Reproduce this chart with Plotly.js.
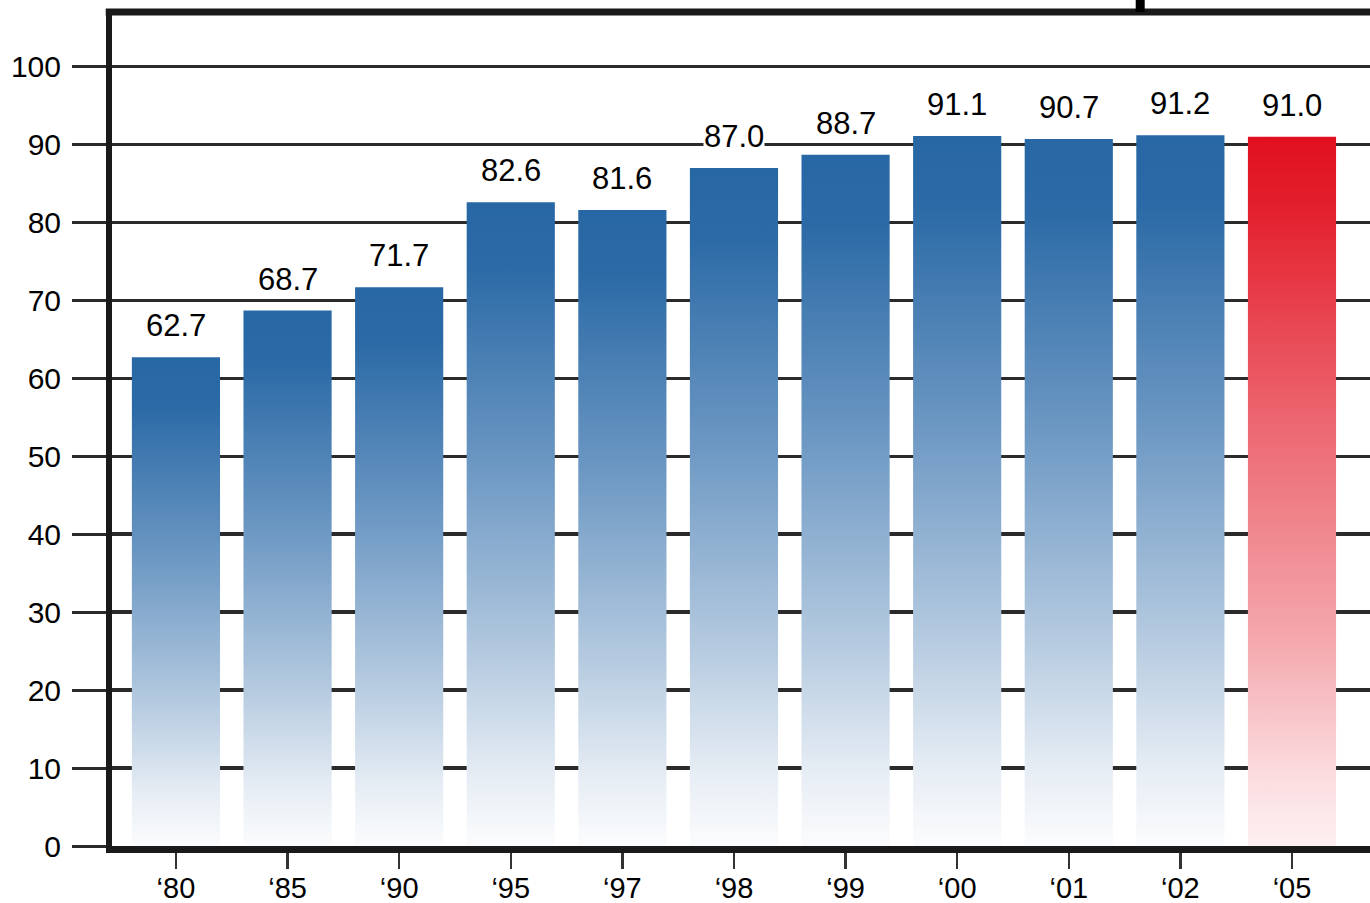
<!DOCTYPE html>
<html>
<head>
<meta charset="utf-8">
<script src="https://cdn.plot.ly/plotly-3.0.1.min.js"></script>
<style>
  html, body { margin: 0; padding: 0; background: #fff; }
  #chart { width: 1370px; height: 903px; }
</style>
</head>
<body>
<div id="chart"></div>
<script>
// Data
const years = ['\u201880', '\u201885', '\u201890', '\u201895', '\u201897', '\u201898', '\u201899', '\u201800', '\u201801', '\u201802', '\u201805'];
const values = [62.7, 68.7, 71.7, 82.6, 81.6, 87.0, 88.7, 91.1, 90.7, 91.2, 91.0];
const labels = ['62.7', '68.7', '71.7', '82.6', '81.6', '87.0', '88.7', '91.1', '90.7', '91.2', '91.0'];
const yTicks = [0, 10, 20, 30, 40, 50, 60, 70, 80, 90, 100];
const highlightIndex = 10;

const FONT = 'Liberation Sans, Arial, Helvetica, sans-serif';
const baseColors = values.map((v, i) => i === highlightIndex ? '#e10f1d' : '#2767a4');

const trace = {
  type: 'bar',
  x: years,
  y: values,
  width: 0.79,
  marker: { color: baseColors, line: { width: 0 } },
  hoverinfo: 'skip'
};

const annotations = years.map((yr, i) => ({
  x: yr, y: values[i], xref: 'x', yref: 'y',
  text: labels[i], showarrow: false,
  yanchor: 'bottom', yshift: 13,
  bgcolor: '#ffffff', borderpad: 0,
  font: { family: FONT, size: 31, color: '#000' }
}));

const layout = {
  width: 1370,
  height: 903,
  margin: { l: 112, r: 0, t: 12, b: 57 },
  paper_bgcolor: '#fff',
  plot_bgcolor: '#fff',
  showlegend: false,
  font: { family: FONT, color: '#000' },
  xaxis: {
    type: 'category',
    range: [-0.573, 10.699],
    showgrid: false,
    showline: true,
    linecolor: '#1a1a1a',
    linewidth: 7,
    ticks: 'outside',
    ticklen: 16,
    tickwidth: 2.5,
    tickcolor: '#333',
    ticklabelstandoff: -6,
    tickfont: { family: FONT, size: 29, color: '#000' },
    zeroline: false,
    fixedrange: true
  },
  yaxis: {
    range: [0, 107],
    tickvals: yTicks,
    showgrid: true,
    gridcolor: '#2a2a2a',
    gridwidth: 3.5,
    showline: true,
    linecolor: '#1a1a1a',
    linewidth: 6,
    ticks: 'outside',
    ticklen: 34,
    tickwidth: 3,
    tickcolor: '#2a2a2a',
    ticklabelstandoff: 5,
    tickfont: { family: FONT, size: 30, color: '#000' },
    zeroline: false,
    fixedrange: true
  },
  annotations: annotations,
  shapes: [
    { type: 'line', xref: 'paper', yref: 'paper', x0: -0.005, x1: 1, y0: 1, y1: 1,
      line: { color: '#1a1a1a', width: 7 } },
    { type: 'line', xref: 'x', yref: 'paper', x0: 8.64, x1: 8.64, y0: 1, y1: 1.016,
      line: { color: '#000', width: 9 } }
  ]
};

function applyGradients(gd) {
  const svg = gd.querySelector('svg.main-svg');
  let defs = svg.querySelector('defs');
  if (!defs) {
    defs = document.createElementNS('http://www.w3.org/2000/svg', 'defs');
    svg.insertBefore(defs, svg.firstChild);
  }
  function addGrad(id, stops) {
    const g = document.createElementNS('http://www.w3.org/2000/svg', 'linearGradient');
    g.setAttribute('id', id);
    g.setAttribute('x1', '0'); g.setAttribute('y1', '0');
    g.setAttribute('x2', '0'); g.setAttribute('y2', '1');
    stops.forEach(s => {
      const st = document.createElementNS('http://www.w3.org/2000/svg', 'stop');
      st.setAttribute('offset', s[0]);
      st.setAttribute('stop-color', s[1]);
      g.appendChild(st);
    });
    defs.appendChild(g);
  }
  addGrad('gradBlue', [[0, '#2767a4'], [0.1, '#2b6aa6'], [0.4, '#6a96c2'], [0.7, '#b3c9df'], [0.9, '#e8eef5'], [1, '#fbfcfd']]);
  addGrad('gradRed', [[0, '#e10f1d'], [0.1, '#e3202d'], [0.4, '#ec6670'], [0.7, '#f4a6ab'], [0.9, '#fbdcdf'], [1, '#fdf0f1']]);
  const paths = gd.querySelectorAll('.barlayer .trace .point path');
  paths.forEach((p, i) => {
    p.style.fill = (i === highlightIndex) ? 'url(#gradRed)' : 'url(#gradBlue)';
  });
}

Plotly.newPlot('chart', [trace], layout, { displayModeBar: false, staticPlot: true })
  .then(applyGradients);
</script>
</body>
</html>
